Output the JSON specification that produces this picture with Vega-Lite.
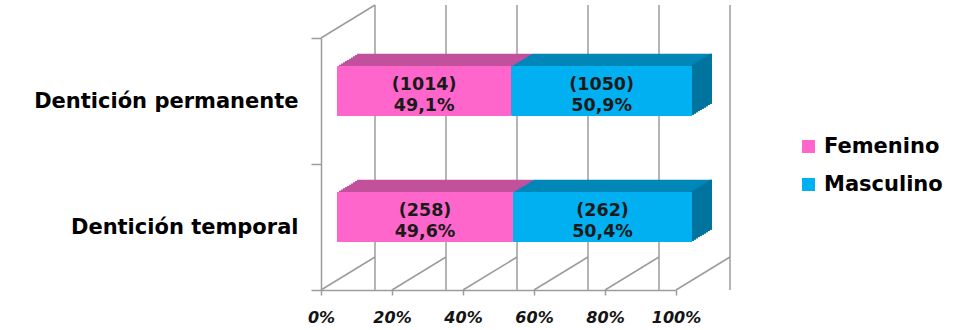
{
  "$schema": "https://vega.github.io/schema/vega-lite/v6.json",
  "width": 355,
  "height": 252,
  "autosize": {"type": "none"},
  "padding": {"left": 321, "top": 38, "right": 280, "bottom": 40},
  "background": "#ffffff",
  "config": {
    "view": {"stroke": null},
    "font": "DejaVu Sans",
    "locale": {"number": {"decimal": ",", "thousands": ".", "grouping": [3], "currency": ["(", ")"]}}
  },
  "datasets": {
    "barras": [
      {"denticion": "Dentición permanente", "sexo": "Femenino", "n": 1014, "pct": 0.491},
      {"denticion": "Dentición permanente", "sexo": "Masculino", "n": 1050, "pct": 0.509},
      {"denticion": "Dentición temporal", "sexo": "Femenino", "n": 258, "pct": 0.496},
      {"denticion": "Dentición temporal", "sexo": "Masculino", "n": 262, "pct": 0.504}
    ],
    "marcas": [{"v": 0}, {"v": 0.2}, {"v": 0.4}, {"v": 0.6}, {"v": 0.8}, {"v": 1}]
  },
  "layer": [
    {
      "data": {"name": "marcas"},
      "mark": {"type": "rule", "color": "#9C9C9C", "strokeWidth": 1.5, "xOffset": 54, "yOffset": -33, "y2Offset": -33},
      "encoding": {
        "x": {
          "field": "v", "type": "quantitative",
          "scale": {"domain": [0, 1], "nice": false},
          "axis": {
            "title": null, "orient": "bottom", "values": [0, 0.2, 0.4, 0.6, 0.8, 1], "format": ".0%",
            "grid": false, "domainColor": "#9C9C9C", "domainWidth": 1.5,
            "tickColor": "#9C9C9C", "tickWidth": 1.5, "tickSize": 5,
            "labelFont": "DejaVu Sans", "labelFontSize": 16, "labelFontWeight": "bold", "labelFontStyle": "italic",
            "labelColor": "#141414", "labelPadding": 14, "labelFlush": false, "labelOverlap": false
          }
        }
      }
    },
    {
      "data": {"name": "marcas"},
      "mark": {"type": "rule", "color": "#9C9C9C", "strokeWidth": 1.5, "x2Offset": 54, "y2Offset": -33},
      "encoding": {
        "x": {"field": "v", "type": "quantitative"},
        "x2": {"field": "v"},
        "y": {"value": {"expr": "height"}},
        "y2": {"value": {"expr": "height"}}
      }
    },
    {
      "data": {"name": "marcas"},
      "transform": [{"filter": "datum.v == 0"}],
      "mark": {"type": "rule", "color": "#9C9C9C", "strokeWidth": 1.5, "x2Offset": 54, "y2Offset": -33},
      "encoding": {
        "x": {"field": "v", "type": "quantitative"},
        "x2": {"field": "v"},
        "y": {"value": 0},
        "y2": {"value": 0}
      }
    },
    {
      "data": {"name": "barras"},
      "transform": [
        {"stack": "pct", "groupby": ["denticion"], "sort": [{"field": "sexo", "order": "ascending"}], "as": ["x0", "x1"]},
        {"calculate": "(datum.x0 + datum.x1) / 2", "as": "xm"}
      ],
      "encoding": {
        "y": {
          "field": "denticion", "type": "nominal",
          "sort": ["Dentición permanente", "Dentición temporal"],
          "scale": {"paddingInner": 0, "paddingOuter": 0},
          "axis": {
            "title": null, "orient": "left", "tickBand": "extent", "tickSize": 10,
            "tickColor": "#9C9C9C", "tickWidth": 1.5, "domainColor": "#9C9C9C", "domainWidth": 1.5,
            "labelFont": "DejaVu Sans", "labelFontSize": 21, "labelFontWeight": "bold", "labelColor": "#000000",
            "labelPadding": 13, "labelLimit": 400, "grid": false
          }
        }
      },
      "layer": [
        {"mark": {"type": "bar", "height": 50, "xOffset": 36, "x2Offset": 36, "yOffset": -22.2},
         "encoding": {"x": {"field": "x0", "type": "quantitative"}, "x2": {"field": "x1"},
           "color": {"condition": {"test": "datum.sexo === 'Femenino'", "value": "#C2519C"}, "value": "#0087B8"}}},
        {"transform": [{"filter": "datum.sexo === 'Masculino'"}],
         "mark": {"type": "bar", "height": 50, "xOffset": 33.5, "x2Offset": 36, "yOffset": -22.2, "color": "#00739E"},
         "encoding": {"x": {"field": "x1", "type": "quantitative"}, "x2": {"field": "x1"}}},
        {"mark": {"type": "bar", "height": 50, "xOffset": 34, "x2Offset": 34, "yOffset": -21},
         "encoding": {"x": {"field": "x0", "type": "quantitative"}, "x2": {"field": "x1"},
           "color": {"condition": {"test": "datum.sexo === 'Femenino'", "value": "#C2519C"}, "value": "#0087B8"}}},
        {"transform": [{"filter": "datum.sexo === 'Masculino'"}],
         "mark": {"type": "bar", "height": 50, "xOffset": 31.5, "x2Offset": 34, "yOffset": -21, "color": "#00739E"},
         "encoding": {"x": {"field": "x1", "type": "quantitative"}, "x2": {"field": "x1"}}},
        {"mark": {"type": "bar", "height": 50, "xOffset": 32, "x2Offset": 32, "yOffset": -19.8},
         "encoding": {"x": {"field": "x0", "type": "quantitative"}, "x2": {"field": "x1"},
           "color": {"condition": {"test": "datum.sexo === 'Femenino'", "value": "#C2519C"}, "value": "#0087B8"}}},
        {"transform": [{"filter": "datum.sexo === 'Masculino'"}],
         "mark": {"type": "bar", "height": 50, "xOffset": 29.5, "x2Offset": 32, "yOffset": -19.8, "color": "#00739E"},
         "encoding": {"x": {"field": "x1", "type": "quantitative"}, "x2": {"field": "x1"}}},
        {"mark": {"type": "bar", "height": 50, "xOffset": 30, "x2Offset": 30, "yOffset": -18.5},
         "encoding": {"x": {"field": "x0", "type": "quantitative"}, "x2": {"field": "x1"},
           "color": {"condition": {"test": "datum.sexo === 'Femenino'", "value": "#C2519C"}, "value": "#0087B8"}}},
        {"transform": [{"filter": "datum.sexo === 'Masculino'"}],
         "mark": {"type": "bar", "height": 50, "xOffset": 27.5, "x2Offset": 30, "yOffset": -18.5, "color": "#00739E"},
         "encoding": {"x": {"field": "x1", "type": "quantitative"}, "x2": {"field": "x1"}}},
        {"mark": {"type": "bar", "height": 50, "xOffset": 28, "x2Offset": 28, "yOffset": -17.3},
         "encoding": {"x": {"field": "x0", "type": "quantitative"}, "x2": {"field": "x1"},
           "color": {"condition": {"test": "datum.sexo === 'Femenino'", "value": "#C2519C"}, "value": "#0087B8"}}},
        {"transform": [{"filter": "datum.sexo === 'Masculino'"}],
         "mark": {"type": "bar", "height": 50, "xOffset": 25.5, "x2Offset": 28, "yOffset": -17.3, "color": "#00739E"},
         "encoding": {"x": {"field": "x1", "type": "quantitative"}, "x2": {"field": "x1"}}},
        {"mark": {"type": "bar", "height": 50, "xOffset": 26, "x2Offset": 26, "yOffset": -16.1},
         "encoding": {"x": {"field": "x0", "type": "quantitative"}, "x2": {"field": "x1"},
           "color": {"condition": {"test": "datum.sexo === 'Femenino'", "value": "#C2519C"}, "value": "#0087B8"}}},
        {"transform": [{"filter": "datum.sexo === 'Masculino'"}],
         "mark": {"type": "bar", "height": 50, "xOffset": 23.5, "x2Offset": 26, "yOffset": -16.1, "color": "#00739E"},
         "encoding": {"x": {"field": "x1", "type": "quantitative"}, "x2": {"field": "x1"}}},
        {"mark": {"type": "bar", "height": 50, "xOffset": 24, "x2Offset": 24, "yOffset": -14.9},
         "encoding": {"x": {"field": "x0", "type": "quantitative"}, "x2": {"field": "x1"},
           "color": {"condition": {"test": "datum.sexo === 'Femenino'", "value": "#C2519C"}, "value": "#0087B8"}}},
        {"transform": [{"filter": "datum.sexo === 'Masculino'"}],
         "mark": {"type": "bar", "height": 50, "xOffset": 21.5, "x2Offset": 24, "yOffset": -14.9, "color": "#00739E"},
         "encoding": {"x": {"field": "x1", "type": "quantitative"}, "x2": {"field": "x1"}}},
        {"mark": {"type": "bar", "height": 50, "xOffset": 22, "x2Offset": 22, "yOffset": -13.7},
         "encoding": {"x": {"field": "x0", "type": "quantitative"}, "x2": {"field": "x1"},
           "color": {"condition": {"test": "datum.sexo === 'Femenino'", "value": "#C2519C"}, "value": "#0087B8"}}},
        {"transform": [{"filter": "datum.sexo === 'Masculino'"}],
         "mark": {"type": "bar", "height": 50, "xOffset": 19.5, "x2Offset": 22, "yOffset": -13.7, "color": "#00739E"},
         "encoding": {"x": {"field": "x1", "type": "quantitative"}, "x2": {"field": "x1"}}},
        {"mark": {"type": "bar", "height": 50, "xOffset": 20, "x2Offset": 20, "yOffset": -12.4},
         "encoding": {"x": {"field": "x0", "type": "quantitative"}, "x2": {"field": "x1"},
           "color": {"condition": {"test": "datum.sexo === 'Femenino'", "value": "#C2519C"}, "value": "#0087B8"}}},
        {"transform": [{"filter": "datum.sexo === 'Masculino'"}],
         "mark": {"type": "bar", "height": 50, "xOffset": 17.5, "x2Offset": 20, "yOffset": -12.4, "color": "#00739E"},
         "encoding": {"x": {"field": "x1", "type": "quantitative"}, "x2": {"field": "x1"}}},
        {"mark": {"type": "bar", "height": 50, "xOffset": 18, "x2Offset": 18, "yOffset": -11.2},
         "encoding": {"x": {"field": "x0", "type": "quantitative"}, "x2": {"field": "x1"},
           "color": {"condition": {"test": "datum.sexo === 'Femenino'", "value": "#C2519C"}, "value": "#0087B8"}}},
        {"transform": [{"filter": "datum.sexo === 'Masculino'"}],
         "mark": {"type": "bar", "height": 50, "xOffset": 15.5, "x2Offset": 18, "yOffset": -11.2, "color": "#00739E"},
         "encoding": {"x": {"field": "x1", "type": "quantitative"}, "x2": {"field": "x1"}}},
        {"mark": {"type": "bar", "height": 50, "xOffset": 16, "x2Offset": 16, "yOffset": -10},
         "encoding": {
           "x": {"field": "x0", "type": "quantitative"}, "x2": {"field": "x1"},
           "color": {
             "field": "sexo", "type": "nominal",
             "scale": {"domain": ["Femenino", "Masculino"], "range": ["#FF66CC", "#00B0F0"]},
             "legend": {
               "title": null, "orient": "none", "legendX": 477, "legendY": 98,
               "symbolType": "square", "symbolSize": 169, "symbolStrokeWidth": 0,
               "labelFont": "DejaVu Sans", "labelFontSize": 21, "labelFontWeight": "bold", "labelColor": "#000000",
               "rowPadding": 16, "labelOffset": 5, "padding": 0
             }
           }
         }},
        {"mark": {"type": "text", "xOffset": 16, "dy": -16.5, "baseline": "middle", "font": "DejaVu Sans", "fontSize": 17.5, "fontWeight": "bold", "color": "#1A1A1A"},
         "encoding": {"x": {"field": "xm", "type": "quantitative"}, "text": {"field": "n", "type": "quantitative", "format": "$d"}}},
        {"mark": {"type": "text", "xOffset": 16, "dy": 5, "baseline": "middle", "font": "DejaVu Sans", "fontSize": 17.5, "fontWeight": "bold", "color": "#1A1A1A"},
         "encoding": {"x": {"field": "xm", "type": "quantitative"}, "text": {"field": "pct", "type": "quantitative", "format": ".1%"}}}
      ]
    }
  ]
}
